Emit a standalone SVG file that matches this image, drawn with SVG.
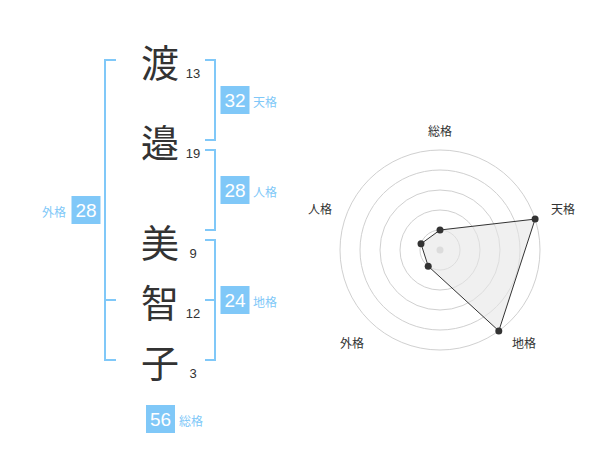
<svg xmlns="http://www.w3.org/2000/svg" width="600" height="470" viewBox="0 0 600 470">
<style>
.kanji{font-family:"Noto Sans CJK JP","Noto Sans CJK SC",sans-serif;font-size:38px;fill:#333;text-anchor:middle;dominant-baseline:central}
.stroke{font-family:"Liberation Sans","Noto Sans",sans-serif;font-size:13px;fill:#333;text-anchor:middle}
.br{fill:none;stroke:#80c8f8;stroke-width:2}
.box{fill:#80c8f8}
.num{font-family:"Liberation Sans","Noto Sans",sans-serif;font-size:19px;fill:#fff;text-anchor:middle;dominant-baseline:central}
.lbl{font-family:"Noto Sans CJK JP","Noto Sans CJK SC",sans-serif;font-size:12px;fill:#80c8f8;dominant-baseline:central}
.ring{fill:none;stroke:#d0d0d0;stroke-width:1}
.axis{font-family:"Noto Sans CJK JP","Noto Sans CJK SC",sans-serif;font-size:12px;fill:#333;text-anchor:middle;dominant-baseline:central}
.pt{fill:#333}
</style>
<rect width="600" height="470" fill="#fff"/>
<g id="chars">
<g id="c1"><text class="kanji" x="160" y="60">渡</text><text class="stroke" x="193" y="78">13</text></g>
<g id="c2"><text class="kanji" x="160" y="140">邉</text><text class="stroke" x="193" y="158">19</text></g>
<g id="c3"><text class="kanji" x="160" y="240">美</text><text class="stroke" x="193" y="258">9</text></g>
<g id="c4"><text class="kanji" x="160" y="300">智</text><text class="stroke" x="193" y="318">12</text></g>
<g id="c5"><text class="kanji" x="160" y="360">子</text><text class="stroke" x="193" y="378">3</text></g>
</g>
<g id="connectors">
<path class="br" d="M116,60 H105 V360 H116 M105,300 H116"/>
<path class="br" d="M205,60 H215 V140 H205"/>
<path class="br" d="M205,150 H215 V230 H205"/>
<path class="br" d="M205,240 H215 V360 H205 M205,300 H215"/>
</g>
<g id="tenkaku"><rect class="box" x="220.5" y="86" width="29" height="28"/><text class="num" x="235" y="100.5">32</text><text class="lbl" x="253" y="101">天格</text></g>
<g id="jinkaku"><rect class="box" x="220.5" y="176" width="29" height="28"/><text class="num" x="235" y="190.5">28</text><text class="lbl" x="253" y="191">人格</text></g>
<g id="chikaku"><rect class="box" x="220.5" y="286" width="29" height="28"/><text class="num" x="235" y="300.5">24</text><text class="lbl" x="253" y="301">地格</text></g>
<g id="gaikaku"><rect class="box" x="71.5" y="196" width="29" height="28"/><text class="num" x="86" y="210.5">28</text><text class="lbl" x="66" y="211" text-anchor="end">外格</text></g>
<g id="soukaku"><rect class="box" x="146" y="405" width="29" height="28"/><text class="num" x="160.5" y="419.5">56</text><text class="lbl" x="179" y="420">総格</text></g>
<g id="radar">
<circle class="ring" cx="440" cy="250" r="20"/>
<circle class="ring" cx="440" cy="250" r="40"/>
<circle class="ring" cx="440" cy="250" r="60"/>
<circle class="ring" cx="440" cy="250" r="80"/>
<circle class="ring" cx="440" cy="250" r="100"/>
<circle cx="440" cy="250" r="3.5" fill="#ccc"/>
<polygon points="440,230 535.1,219.1 498.8,330.9 428.2,266.2 421,243.8" fill="#e6e6e6" fill-opacity="0.6" stroke="#333" stroke-width="1"/>
<circle class="pt" cx="440" cy="230" r="3.5"/>
<circle class="pt" cx="535.1" cy="219.1" r="3.5"/>
<circle class="pt" cx="498.8" cy="330.9" r="3.5"/>
<circle class="pt" cx="428.2" cy="266.2" r="3.5"/>
<circle class="pt" cx="421" cy="243.8" r="3.5"/>
<text class="axis" x="440" y="130">総格</text>
<text class="axis" x="563" y="208">天格</text>
<text class="axis" x="524" y="342">地格</text>
<text class="axis" x="352" y="342">外格</text>
<text class="axis" x="320" y="208">人格</text>
</g>
</svg>
